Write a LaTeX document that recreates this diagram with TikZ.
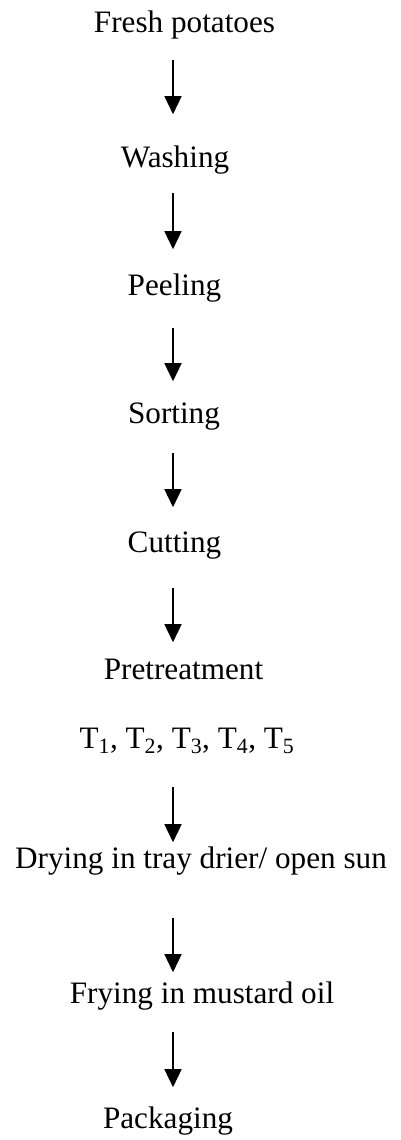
\documentclass[tikz,border=0pt]{standalone}
\usepackage{fontspec}
\setmainfont{Liberation Serif}
\usetikzlibrary{arrows.meta}
\tikzset{
  stage/.style={inner sep=0pt, anchor=base, text height=20.6pt, text depth=0pt, font=\fontsize{31.2}{36}\selectfont},
  flow/.style={line width=1.5pt, -{Triangle[width=17pt,length=18pt]}}
}
\begin{document}
\begin{tikzpicture}[x=1pt, y=-1pt]
\useasboundingbox (0,0) rectangle (400,1140);
\coordinate (axis) at (173,0);
\node[stage] (fresh) at (184.5,33) {Fresh potatoes};
\node[stage] (wash) at (175,167) {Washing};
\node[stage] (peel) at (174.5,295) {Peeling};
\node[stage] (sort) at (174,423) {Sorting};
\node[stage] (cut) at (174.5,552) {Cutting};
\node[stage] (pre) at (183.5,679) {Pretreatment};
\node[stage] (treat) at (187,748) {T\textsubscript{1}, T\textsubscript{2}, T\textsubscript{3}, T\textsubscript{4}, T\textsubscript{5}};
\node[stage] (dry) at (201,868) {Drying in tray drier/ open sun};
\node[stage] (fry) at (202,1003) {Frying in mustard oil};
\node[stage] (pack) at (168,1128) {Packaging};
% arrows down the axis, gaps taken from the chart
\foreach \a/\b/\s/\e in {fresh/wash/27/32, wash/peel/26/25, peel/sort/33/21, sort/cut/30/24,
  cut/pre/36/16, treat/dry/39/5, dry/fry/50/10, fry/pack/29/20}
  \draw[flow, shorten <=\s pt, shorten >=\e pt] (\a.south -| axis) -- (\b.north -| axis);
\end{tikzpicture}
\end{document}
